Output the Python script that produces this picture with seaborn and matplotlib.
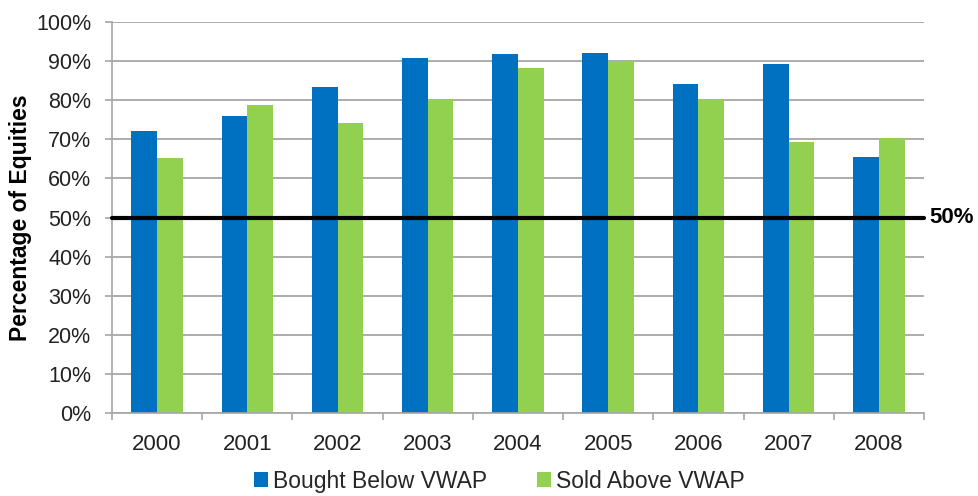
import matplotlib
matplotlib.use("Agg")
import matplotlib.pyplot as plt
import seaborn as sns
import pandas as pd
from matplotlib.ticker import PercentFormatter, FixedLocator
from matplotlib.patches import Patch

years = ["2000", "2001", "2002", "2003", "2004", "2005", "2006", "2007", "2008"]
bought_below = [72.1, 76.0, 83.3, 90.9, 91.8, 92.2, 84.1, 89.3, 65.5]
sold_above = [65.3, 78.8, 74.1, 80.2, 88.3, 90.0, 80.2, 69.2, 70.4]
series_names = ["Bought Below VWAP", "Sold Above VWAP"]
colors = ["#0070C0", "#92D050"]
reference_level = 50

df = pd.DataFrame({
    "Year": years * 2,
    "Value": bought_below + sold_above,
    "Series": [series_names[0]] * len(years) + [series_names[1]] * len(years),
})

sns.set_theme(style="white")
plt.rcParams["font.family"] = ["Liberation Sans", "DejaVu Sans"]

fig = plt.figure(figsize=(9.79, 4.96), dpi=100)
ax = fig.add_axes([0.1144, 0.1673, 0.8294, 0.7883])

sns.barplot(data=df, x="Year", y="Value", hue="Series", palette=colors,
            width=0.57, gap=0, saturation=1, ax=ax, legend=False,
            linewidth=0, edgecolor="none")

ax.set_ylim(0, 100)
ax.set_xlim(-0.5, len(years) - 0.5)
ax.yaxis.set_major_locator(FixedLocator(range(0, 101, 10)))
ax.yaxis.set_major_formatter(PercentFormatter(decimals=0))
ax.grid(axis="y", color="#A6A6A6", lw=1.3)
ax.set_axisbelow(True)

for s in ["top", "right"]:
    ax.spines[s].set_visible(False)
ax.spines["left"].set_color("#A6A6A6")
ax.spines["bottom"].set_color("#A6A6A6")
ax.spines["left"].set_linewidth(1.2)
ax.spines["bottom"].set_linewidth(1.2)

ax.tick_params(axis="y", labelsize=15.5, colors="#A6A6A6", labelcolor="#222222",
               length=5, width=1.2, left=True, pad=10)
ax.tick_params(axis="x", labelsize=16, labelcolor="#222222", bottom=False, pad=9)
ax.set_xticks([i - 0.5 for i in range(len(years) + 1)], minor=True)
ax.tick_params(axis="x", which="minor", bottom=True, length=5, width=1.2,
               color="#A6A6A6", direction="out")

ax.set_xlabel("")
ax.set_ylabel("Percentage of Equities", fontsize=16.5, fontweight="bold",
              color="#000000")
ax.yaxis.set_label_coords(-0.098, 0.5)

ax.axhline(reference_level, color="black", lw=3, zorder=5, clip_on=False)
ax.text(1.007, reference_level, f"{reference_level}%", transform=ax.get_yaxis_transform(),
        fontsize=16, fontweight="bold", va="center", ha="left", color="black")

handles = [Patch(facecolor=c, edgecolor="none", label=n) for c, n in zip(colors, series_names)]
fig.legend(handles=handles, loc="lower center", bbox_to_anchor=(0.51, -0.035), ncol=2,
           frameon=False, fontsize=16.5, handlelength=0.6, handleheight=0.6,
           handletextpad=0.2, columnspacing=2.2)

fig.savefig("out.png", dpi=100)
